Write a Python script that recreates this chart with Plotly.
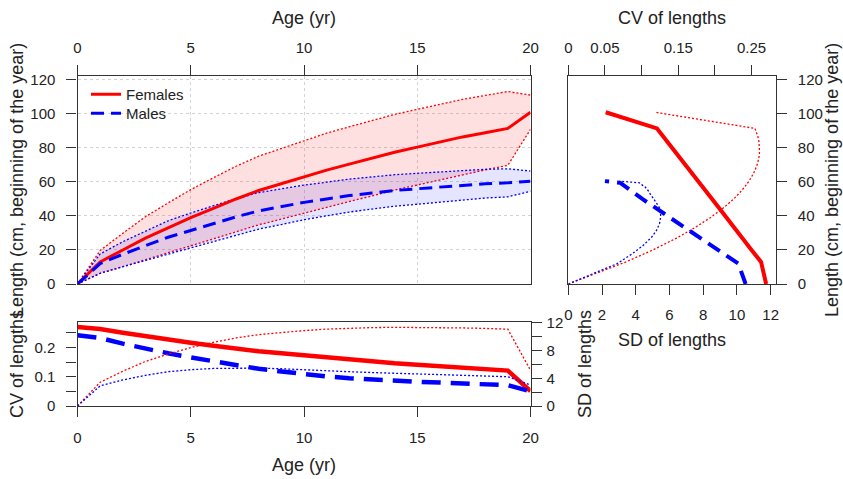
import plotly.graph_objects as go

# ---- data ----
ages = list(range(21))
fem_len = [0, 13, 20, 27, 33, 39, 44.5, 50, 55, 59, 63, 67, 70.5, 74, 77.5, 80.5, 83.5, 86.5, 89, 91.5, 101]
mal_len = [0, 12, 17.5, 22.5, 27.5, 31.5, 35.5, 39.5, 43, 45.5, 48, 50, 52, 53.5, 55, 56, 57, 58, 59, 59.5, 60.5]
fem_cv = [0.270, 0.263, 0.250, 0.238, 0.227, 0.216, 0.206, 0.196, 0.187, 0.180, 0.173, 0.165, 0.159,
          0.153, 0.146, 0.141, 0.136, 0.130, 0.126, 0.121, 0.051]
mal_cv = [0.242, 0.232, 0.213, 0.196, 0.180, 0.166, 0.152, 0.139, 0.127, 0.118, 0.108, 0.101, 0.095,
          0.090, 0.086, 0.083, 0.080, 0.076, 0.073, 0.071, 0.050]
fem_sd = [0, 3.42, 5.01, 6.42, 7.48, 8.42, 9.17, 9.81, 10.29, 10.61, 10.87, 11.08, 11.21, 11.30, 11.34,
          11.34, 11.31, 11.25, 11.18, 11.07, 5.15]
mal_sd = [0, 2.9, 3.75, 4.42, 4.94, 5.23, 5.41, 5.48, 5.46, 5.37, 5.2, 5.05, 4.94, 4.82, 4.73,
          4.64, 4.56, 4.41, 4.31, 4.22, 3.03]

age_ticks = [0, 5, 10, 15, 20]
len_ticks = [0, 20, 40, 60, 80, 100, 120]
cv_ticks = [0, 0.05, 0.10, 0.15, 0.20, 0.25]
sd_ticks = [0, 2, 4, 6, 8, 10, 12]

W, H = 843, 479
FONT = "Liberation Sans, Arial, sans-serif"
RED, BLUE = "#FF0000", "#0000FF"
DOT = "2px,2px"


def px(x):
    return x / W


def py(y):
    return 1 - y / H


fig = go.Figure()

# ---- main panel: length at age with +/- 1.96 SD band ----
for lens, sds, col, fillc in [(fem_len, fem_sd, RED, "rgba(255,0,0,0.12)"),
                              (mal_len, mal_sd, BLUE, "rgba(0,0,255,0.10)")]:
    hi = [m + 1.96 * s for m, s in zip(lens, sds)]
    lo = [m - 1.96 * s for m, s in zip(lens, sds)]
    fig.add_trace(go.Scatter(x=ages + ages[::-1], y=hi + lo[::-1], fill="toself", fillcolor=fillc,
                             line=dict(width=0), mode="lines", showlegend=False, hoverinfo="skip"))
    for b in (hi, lo):
        fig.add_trace(go.Scatter(x=ages, y=b, mode="lines", showlegend=False,
                                 line=dict(color=col, width=1.3, dash=DOT)))

fig.add_trace(go.Scatter(x=ages, y=fem_len, mode="lines", name="Females", legend="legend",
                         line=dict(color=RED, width=3)))
fig.add_trace(go.Scatter(x=ages, y=mal_len, mode="lines", name="Males", legend="legend2",
                         line=dict(color=BLUE, width=3, dash="13px,7px")))

# ---- bottom panel: CV (left) and SD (right) at age ----
fig.add_trace(go.Scatter(x=ages, y=fem_cv, mode="lines", showlegend=False, xaxis="x2", yaxis="y2",
                         line=dict(color=RED, width=4.5)))
fig.add_trace(go.Scatter(x=ages, y=mal_cv, mode="lines", showlegend=False, xaxis="x2", yaxis="y2",
                         line=dict(color=BLUE, width=4.5, dash="19px,10px")))
fig.add_trace(go.Scatter(x=ages, y=fem_sd, mode="lines", showlegend=False, xaxis="x2", yaxis="y3",
                         line=dict(color=RED, width=1.3, dash=DOT)))
fig.add_trace(go.Scatter(x=ages, y=mal_sd, mode="lines", showlegend=False, xaxis="x2", yaxis="y3",
                         line=dict(color=BLUE, width=1.3, dash=DOT)))

# ---- right panel: CV (top axis) and SD (bottom axis) against length ----
fig.add_trace(go.Scatter(x=fem_cv, y=fem_len, mode="lines", showlegend=False, xaxis="x4", yaxis="y4",
                         line=dict(color=RED, width=4)))
fig.add_trace(go.Scatter(x=mal_cv, y=mal_len, mode="lines", showlegend=False, xaxis="x4", yaxis="y4",
                         line=dict(color=BLUE, width=4, dash="14px,8px")))
fig.add_trace(go.Scatter(x=fem_sd, y=fem_len, mode="lines", showlegend=False, xaxis="x3", yaxis="y4",
                         line=dict(color=RED, width=1.3, dash=DOT)))
fig.add_trace(go.Scatter(x=mal_sd, y=mal_len, mode="lines", showlegend=False, xaxis="x3", yaxis="y4",
                         line=dict(color=BLUE, width=1.3, dash=DOT)))

ax = dict(showline=True, linecolor="#333", linewidth=1.2, ticks="outside", ticklen=10, tickwidth=1.2,
          tickcolor="#333", tickfont=dict(size=15, color="#222", family=FONT), zeroline=False,
          showgrid=False, automargin=False, fixedrange=True)
grid = dict(showgrid=True, gridcolor="#D3D3D3", griddash="dot", gridwidth=1)
leg = dict(xanchor="left", yanchor="top", bgcolor="rgba(0,0,0,0)",
           font=dict(size=15, family=FONT, color="#222"))

main_y = [py(284), py(75.7)]
bot_y = [py(406), py(321.7)]
left_x = [px(77.5), px(530.5)]
right_x = [px(568.3), px(775.7)]

fig.update_layout(
    width=W, height=H, margin=dict(l=0, r=0, t=0, b=0, pad=0),
    paper_bgcolor="white", plot_bgcolor="white", font=dict(family=FONT, color="#222"),
    showlegend=True,
    legend=dict(leg, x=px(86), y=py(78)),
    legend2=dict(leg, x=px(86), y=py(97)),
    xaxis=dict({**ax, **grid}, domain=left_x, range=[0, 20], side="top", anchor="y", mirror=True,
               tickvals=age_ticks, ticklabelstandoff=6),
    yaxis=dict({**ax, **grid}, domain=main_y, range=[0, 122.5], anchor="x", mirror=True,
               tickvals=len_ticks, ticklabelstandoff=8),
    xaxis2=dict(ax, domain=left_x, range=[0, 20], anchor="y2", side="bottom", mirror=True,
                tickvals=age_ticks, ticklabelstandoff=8),
    yaxis2=dict(ax, domain=bot_y, range=[0, 0.288], anchor="x2", mirror=True,
                tickvals=cv_ticks, ticktext=["0", "", "0.1", "", "0.2", ""], ticklabelstandoff=8),
    yaxis3=dict(ax, range=[0, 12.15], anchor="x2", overlaying="y2", side="right",
                tickvals=sd_ticks, ticktext=["0", "", "4", "", "8", "", "12"], ticklabelstandoff=2),
    xaxis3=dict(ax, domain=right_x, range=[0, 12.3], anchor="y4", side="bottom", mirror=True,
                tickvals=sd_ticks, ticklabelstandoff=7),
    xaxis4=dict(ax, range=[0, 0.283], anchor="y4", overlaying="x3", side="top",
                tickvals=cv_ticks, ticktext=["0", "0.05", "", "0.15", "", "0.25"], ticklabelstandoff=6),
    yaxis4=dict(ax, domain=main_y, range=[0, 122.5], anchor="x3", side="right", mirror=True,
                tickvals=len_ticks, ticklabelstandoff=8),
)

titles = [
    ("Age (yr)", 304, 18, 0),
    ("Length (cm, beginning of the year)", 17, 180, -90),
    ("CV of lengths", 17, 364, -90),
    ("SD of lengths", 585, 364, -90),
    ("Age (yr)", 304, 465, 0),
    ("CV of lengths", 672, 18, 0),
    ("SD of lengths", 672, 340, 0),
    ("Length (cm, beginning of the year)", 832, 180, -90),
]
for text, x, y, ang in titles:
    fig.add_annotation(text=text, x=px(x), y=py(y), xref="paper", yref="paper", showarrow=False,
                       xanchor="center", yanchor="middle", textangle=ang,
                       font=dict(size=18, family=FONT, color="#222"))

# the page body has a default 8px margin; drop it so the figure fills the window
fig.write_html("out.html", config={"displayModeBar": False},
               post_script="document.body.style.margin='0';")
